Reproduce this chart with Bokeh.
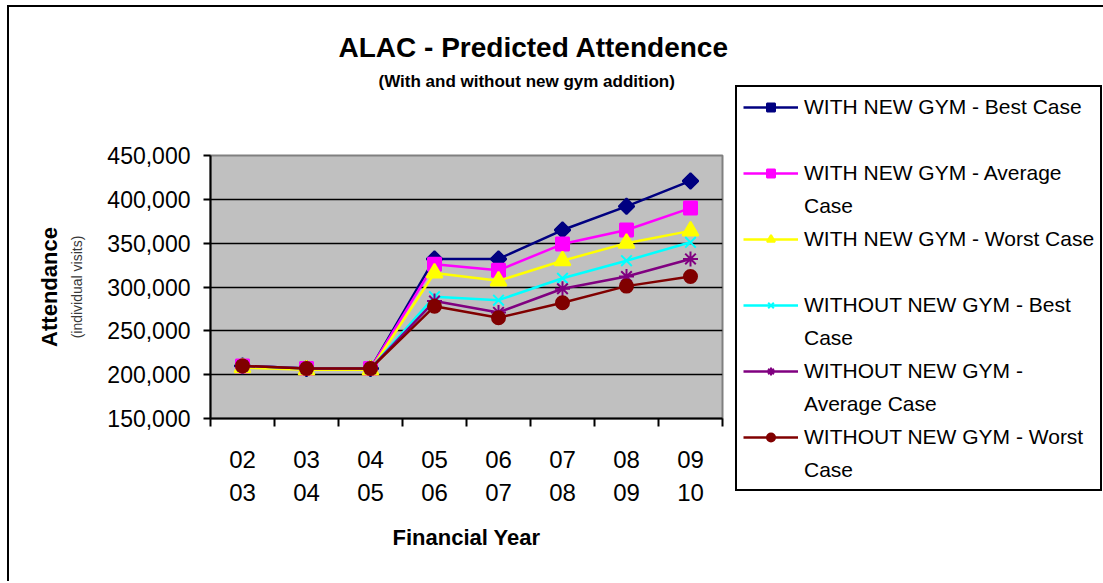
import math
from bokeh.plotting import figure
from bokeh.models import (Range1d, FixedTicker, NumeralTickFormatter, Legend, LegendItem, Title,
                          LinearAxis)
from bokeh.embed import file_html
from bokeh.resources import INLINE

years = ["02\n03", "03\n04", "04\n05", "05\n06", "06\n07", "07\n08", "08\n09", "09\n10"]
with_best = [210000, 207000, 207000, 332000, 332000, 365000, 392000, 421000]
with_avg = [210000, 207000, 207000, 326000, 319000, 349000, 365000, 390000]
with_worst = [208000, 205500, 205500, 316000, 307000, 330000, 350000, 364000]
without_best = [210000, 207000, 207000, 289000, 285000, 310000, 330000, 351000]
without_avg = [210000, 207000, 207000, 284000, 271000, 298000, 312000, 332000]
without_worst = [210000, 207000, 207000, 278000, 265000, 282000, 301000, 312000]
y_ticks = [150000, 200000, 250000, 300000, 350000, 400000, 450000]

# legend text, one list of lines per series
label_lines = [["WITH NEW GYM - Best Case", " "],
               ["WITH NEW GYM - Average", "Case"],
               ["WITH NEW GYM - Worst Case", " "],
               ["WITHOUT NEW GYM - Best", "Case"],
               ["WITHOUT NEW GYM -", "Average Case"],
               ["WITHOUT NEW GYM - Worst", "Case"]]
series = [with_best, with_avg, with_worst, without_best, without_avg, without_worst]
colors = ["#000080", "#FF00FF", "#FFFF00", "#00FFFF", "#800080", "#800000"]
markers = ["square", "square", "triangle", "x", "asterisk", "circle"]
angles = [math.pi / 4, 0, 0, 0, 0, 0]
msizes = [11, 13, 16, 15, 15, 13]

FONT = "Liberation Sans"
xs = [i + 0.5 for i in range(len(years))]

p = figure(frame_width=512, frame_height=263, output_backend="svg", toolbar_location=None,
           x_range=Range1d(0, len(years)), y_range=Range1d(y_ticks[0], y_ticks[-1]),
           min_border_left=201, min_border_right=20, min_border_top=148, min_border_bottom=163)
p.styles = {"margin-left": "7px", "margin-top": "5px",
            "border-left": "2px solid black", "border-top": "2px solid black"}
p.background_fill_color = "#C0C0C0"
p.border_fill_color = "white"
p.outline_line_color = "#808080"
p.outline_line_width = 2

# x axis
xax = p.xaxis[0]
xax.ticker = FixedTicker(ticks=xs, minor_ticks=list(range(len(years) + 1)))
xax.major_label_overrides = {x: lab for x, lab in zip(xs, years)}
xax.major_tick_line_color = None
xax.major_tick_out = 0
xax.minor_tick_in = 0
xax.minor_tick_out = 8
xax.minor_tick_line_color = "black"
xax.minor_tick_line_width = 2
xax.axis_line_color = "black"
xax.axis_line_width = 2
xax.major_label_standoff = 19
xax.major_label_text_font = FONT
xax.major_label_text_font_size = "24px"
xax.major_label_text_line_height = 1.25
xax.major_label_text_color = "black"
xax.axis_label = "Financial Year"
xax.axis_label_text_font = FONT
xax.axis_label_text_font_style = "bold"
xax.axis_label_text_font_size = "22px"
xax.axis_label_text_color = "black"
xax.axis_label_standoff = 16

# y axis (main, with ticks)
yax = p.yaxis[0]
yax.ticker = FixedTicker(ticks=y_ticks)
yax.formatter = NumeralTickFormatter(format="0,0")
yax.minor_tick_line_color = None
yax.major_tick_in = 0
yax.major_tick_out = 7
yax.major_tick_line_width = 2
yax.axis_line_width = 2
yax.major_label_standoff = 13
yax.major_label_text_font = FONT
yax.major_label_text_font_size = "23px"
yax.major_label_text_color = "black"


def blank_axis(**kw):
    return LinearAxis(ticker=FixedTicker(ticks=[]), axis_line_color=None,
                      major_tick_line_color=None, minor_tick_line_color=None,
                      major_tick_in=0, major_tick_out=0, minor_tick_out=0, minor_tick_in=0,
                      major_label_standoff=0, **kw)


# label-only axes: "(individual visits)" then "Attendance"
ax_sub = blank_axis(axis_label="(individual visits)", axis_label_text_font=FONT,
                    axis_label_text_font_size="14px", axis_label_text_font_style="normal",
                    axis_label_standoff=20)
if hasattr(ax_sub, "axis_label_background_fill_color"):
    ax_sub.axis_label_background_fill_color = "#1A1A1A"
    ax_sub.axis_label_text_color = "#B8B8B8"
else:
    ax_sub.axis_label_text_color = "#383838"
p.add_layout(ax_sub, "left")
ax_att = blank_axis(axis_label="Attendance", axis_label_text_font=FONT,
                    axis_label_text_font_size="22px", axis_label_text_color="black",
                    axis_label_text_font_style="bold", axis_label_standoff=4)
p.add_layout(ax_att, "left")

p.xgrid.grid_line_color = None
p.ygrid.ticker = FixedTicker(ticks=y_ticks[:-1])
p.ygrid.grid_line_color = "black"
p.ygrid.grid_line_width = 1.5

dummy = p.line(x=[], y=[], line_alpha=0)
items = []
for lines, ys, c, m, a, s in zip(label_lines, series, colors, markers, angles, msizes):
    r1 = p.line(xs, ys, line_color=c, line_width=2.5)
    r2 = p.scatter(xs, ys, marker=m, angle=a, size=s, fill_color=c, line_color=c, line_width=2)
    items.append(LegendItem(label=lines[0], renderers=[r1, r2]))
    items.append(LegendItem(label=lines[1], renderers=[dummy]))

legend = Legend(items=items, location=(13, -73))
legend.border_line_color = "black"
legend.border_line_alpha = 1
legend.border_line_width = 2
legend.background_fill_color = "white"
legend.background_fill_alpha = 1
legend.label_text_font = FONT
legend.label_text_font_size = "21px"
legend.label_text_color = "black"
legend.glyph_width = 55
legend.glyph_height = 20
legend.label_height = 27
legend.label_standoff = 6
legend.spacing = 6
legend.padding = 6
legend.margin = 0
p.add_layout(legend, "right")

# titles (stacked outward from the plot area: spacer, subtitle, title)
spacer = Title(text=" ", text_font=FONT, text_font_size="10px", standoff=47)
subtitle = Title(text="(With and without new gym addition)", align="left", offset=168,
                 text_font=FONT, text_font_style="bold", text_font_size="17px",
                 text_color="black", standoff=10)
title = Title(text="ALAC - Predicted Attendence", align="left", offset=128,
              text_font=FONT, text_font_style="bold", text_font_size="28px",
              text_color="black", standoff=3)
p.add_layout(spacer, "above")
p.add_layout(subtitle, "above")
p.add_layout(title, "above")

open("out.html", "w").write(file_html(p, INLINE))
